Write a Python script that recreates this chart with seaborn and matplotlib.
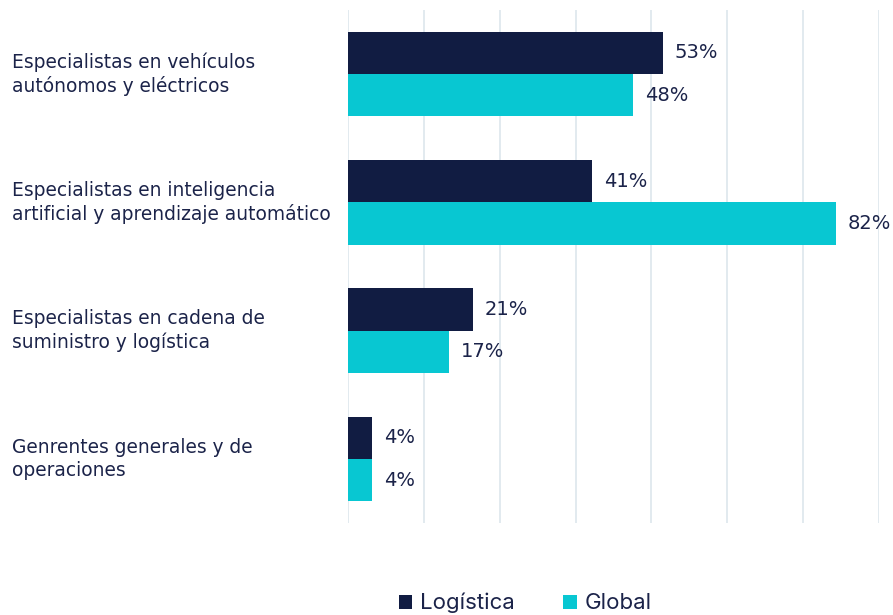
import numpy as np
import pandas as pd
import matplotlib
matplotlib.use("Agg")
import matplotlib.pyplot as plt
import matplotlib.transforms as mtransforms
from matplotlib.patches import Patch
import seaborn as sns

categories = [
    "Especialistas en vehículos\nautónomos y eléctricos",
    "Especialistas en inteligencia\nartificial y aprendizaje automático",
    "Especialistas en cadena de\nsuministro y logística",
    "Genrentes generales y de\noperaciones",
]
series_names = ["Logística", "Global"]
logistica = [53, 41, 21, 4]
global_vals = [48, 82, 17, 4]

NAVY = "#111c42"
CYAN = "#08c7d2"
TEXT = "#1b2349"
GRID = "#dde6ec"

df = pd.DataFrame({
    "categoria": categories * 2,
    "serie": [series_names[0]] * len(categories) + [series_names[1]] * len(categories),
    "valor": logistica + global_vals,
})

sns.set_theme(style="white")
plt.rcParams["font.family"] = ["DejaVu Sans"]

fig = plt.figure(figsize=(8.93, 6.15), dpi=100)
ax = fig.add_axes([348 / 893, 1 - 523 / 615, (879 - 348) / 893, (523 - 10) / 615])

sns.barplot(
    data=df, y="categoria", x="valor", hue="serie", orient="h",
    palette=[NAVY, CYAN], width=0.66, gap=0, saturation=1, linewidth=0,
    order=categories, hue_order=series_names, legend=False, ax=ax,
)

xmax = 89.3
ax.set_xlim(0, xmax)
ax.set_ylim(3.5, -0.5)
ax.set_xticks(np.linspace(0, xmax, 8))
ax.xaxis.grid(True, color=GRID, linewidth=1.2)
ax.set_axisbelow(True)
ax.set_xticklabels([])
ax.set_yticklabels([])
ax.set_xlabel("")
ax.set_ylabel("")
ax.tick_params(left=False, bottom=False)
for s in ax.spines.values():
    s.set_visible(False)

for cont in ax.containers:
    ax.bar_label(cont, labels=[f"{v:.0f}%" for v in cont.datavalues],
                 padding=8.5, color=TEXT, fontsize=14)

trans = mtransforms.blended_transform_factory(fig.transFigure, ax.transData)
for i, cat in enumerate(categories):
    ax.text(12 / 893, i, cat, transform=trans, ha="left", va="center",
            fontsize=13.4, color=TEXT, linespacing=1.25, clip_on=False)

handles = [Patch(facecolor=NAVY, edgecolor="none"), Patch(facecolor=CYAN, edgecolor="none")]
fig.legend(handles, series_names, loc="lower center", bbox_to_anchor=(525 / 893, -0.03),
           ncol=2, frameon=False, prop={"family": "Inter", "size": 16},
           labelcolor=TEXT, handlelength=0.6, handleheight=0.6, handletextpad=0.35,
           columnspacing=2.2)

fig.savefig("out.png", dpi=100)
